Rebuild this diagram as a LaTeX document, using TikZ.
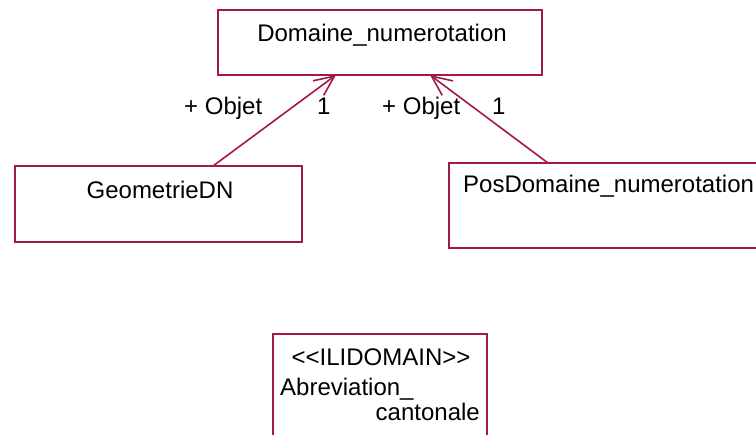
\documentclass[tikz,border=0pt]{standalone}
\usepackage{fontspec}
\setmainfont{Liberation Sans}
\usetikzlibrary{arrows.meta}
\definecolor{umlred}{HTML}{A3174B}
\tikzset{
  umlbox/.style={draw=umlred, line width=1.6pt},
  assoc/.style={draw=umlred, line width=1.6pt, -{Straight Barb[length=20pt,width=18pt,line width=1.6pt]}},
  txt/.style={font=\fontsize{24}{28}\selectfont, inner sep=0pt, text=black},
}
\begin{document}
\begin{tikzpicture}[x=1pt,y=-1pt]
  \useasboundingbox (0,0) rectangle (756,435);
  \clip (0,0) rectangle (756,435);
  % classes
  \draw[umlbox] (218,10) rectangle (542,75);
  \coordinate (dom) at (382,42);
  \node[txt, anchor=base] (domtxt) at (dom) {Domaine\_numerotation};

  \draw[umlbox] (15,166) rectangle (302,242);
  \node[txt, anchor=base] (geotxt) at (160,199) {GeometrieDN};

  \draw[umlbox] (449,163) rectangle (780,248);
  \node[txt, anchor=base west] (postxt) at (463,193) {PosDomaine\_numerotation};

  \draw[umlbox] (273,334) rectangle (487,460);
  \node[txt, anchor=base] (stereo) at (381,366) {<{}<ILIDOMAIN>{}>};
  \node[txt, anchor=base west] (abr1) at (280,396) {Abreviation\_};
  \node[txt, anchor=base east] (abr2) at (480,421) {cantonale};

  % association ends
  \coordinate (geoTop) at (213,166);
  \coordinate (domL) at (336,75);
  \coordinate (posTop) at (548,163);
  \coordinate (domR) at (430,75);
  \draw[assoc] (geoTop) -- (domL);
  \draw[assoc] (posTop) -- (domR);

  % role names and multiplicities
  \node[txt, anchor=base west] (r1) at (184,115) {+ Objet};
  \node[txt, anchor=base west] (m1) at (317,115) {1};
  \node[txt, anchor=base west] (r2) at (382,115) {+ Objet};
  \node[txt, anchor=base west] (m2) at (492,115) {1};
\end{tikzpicture}
\end{document}
